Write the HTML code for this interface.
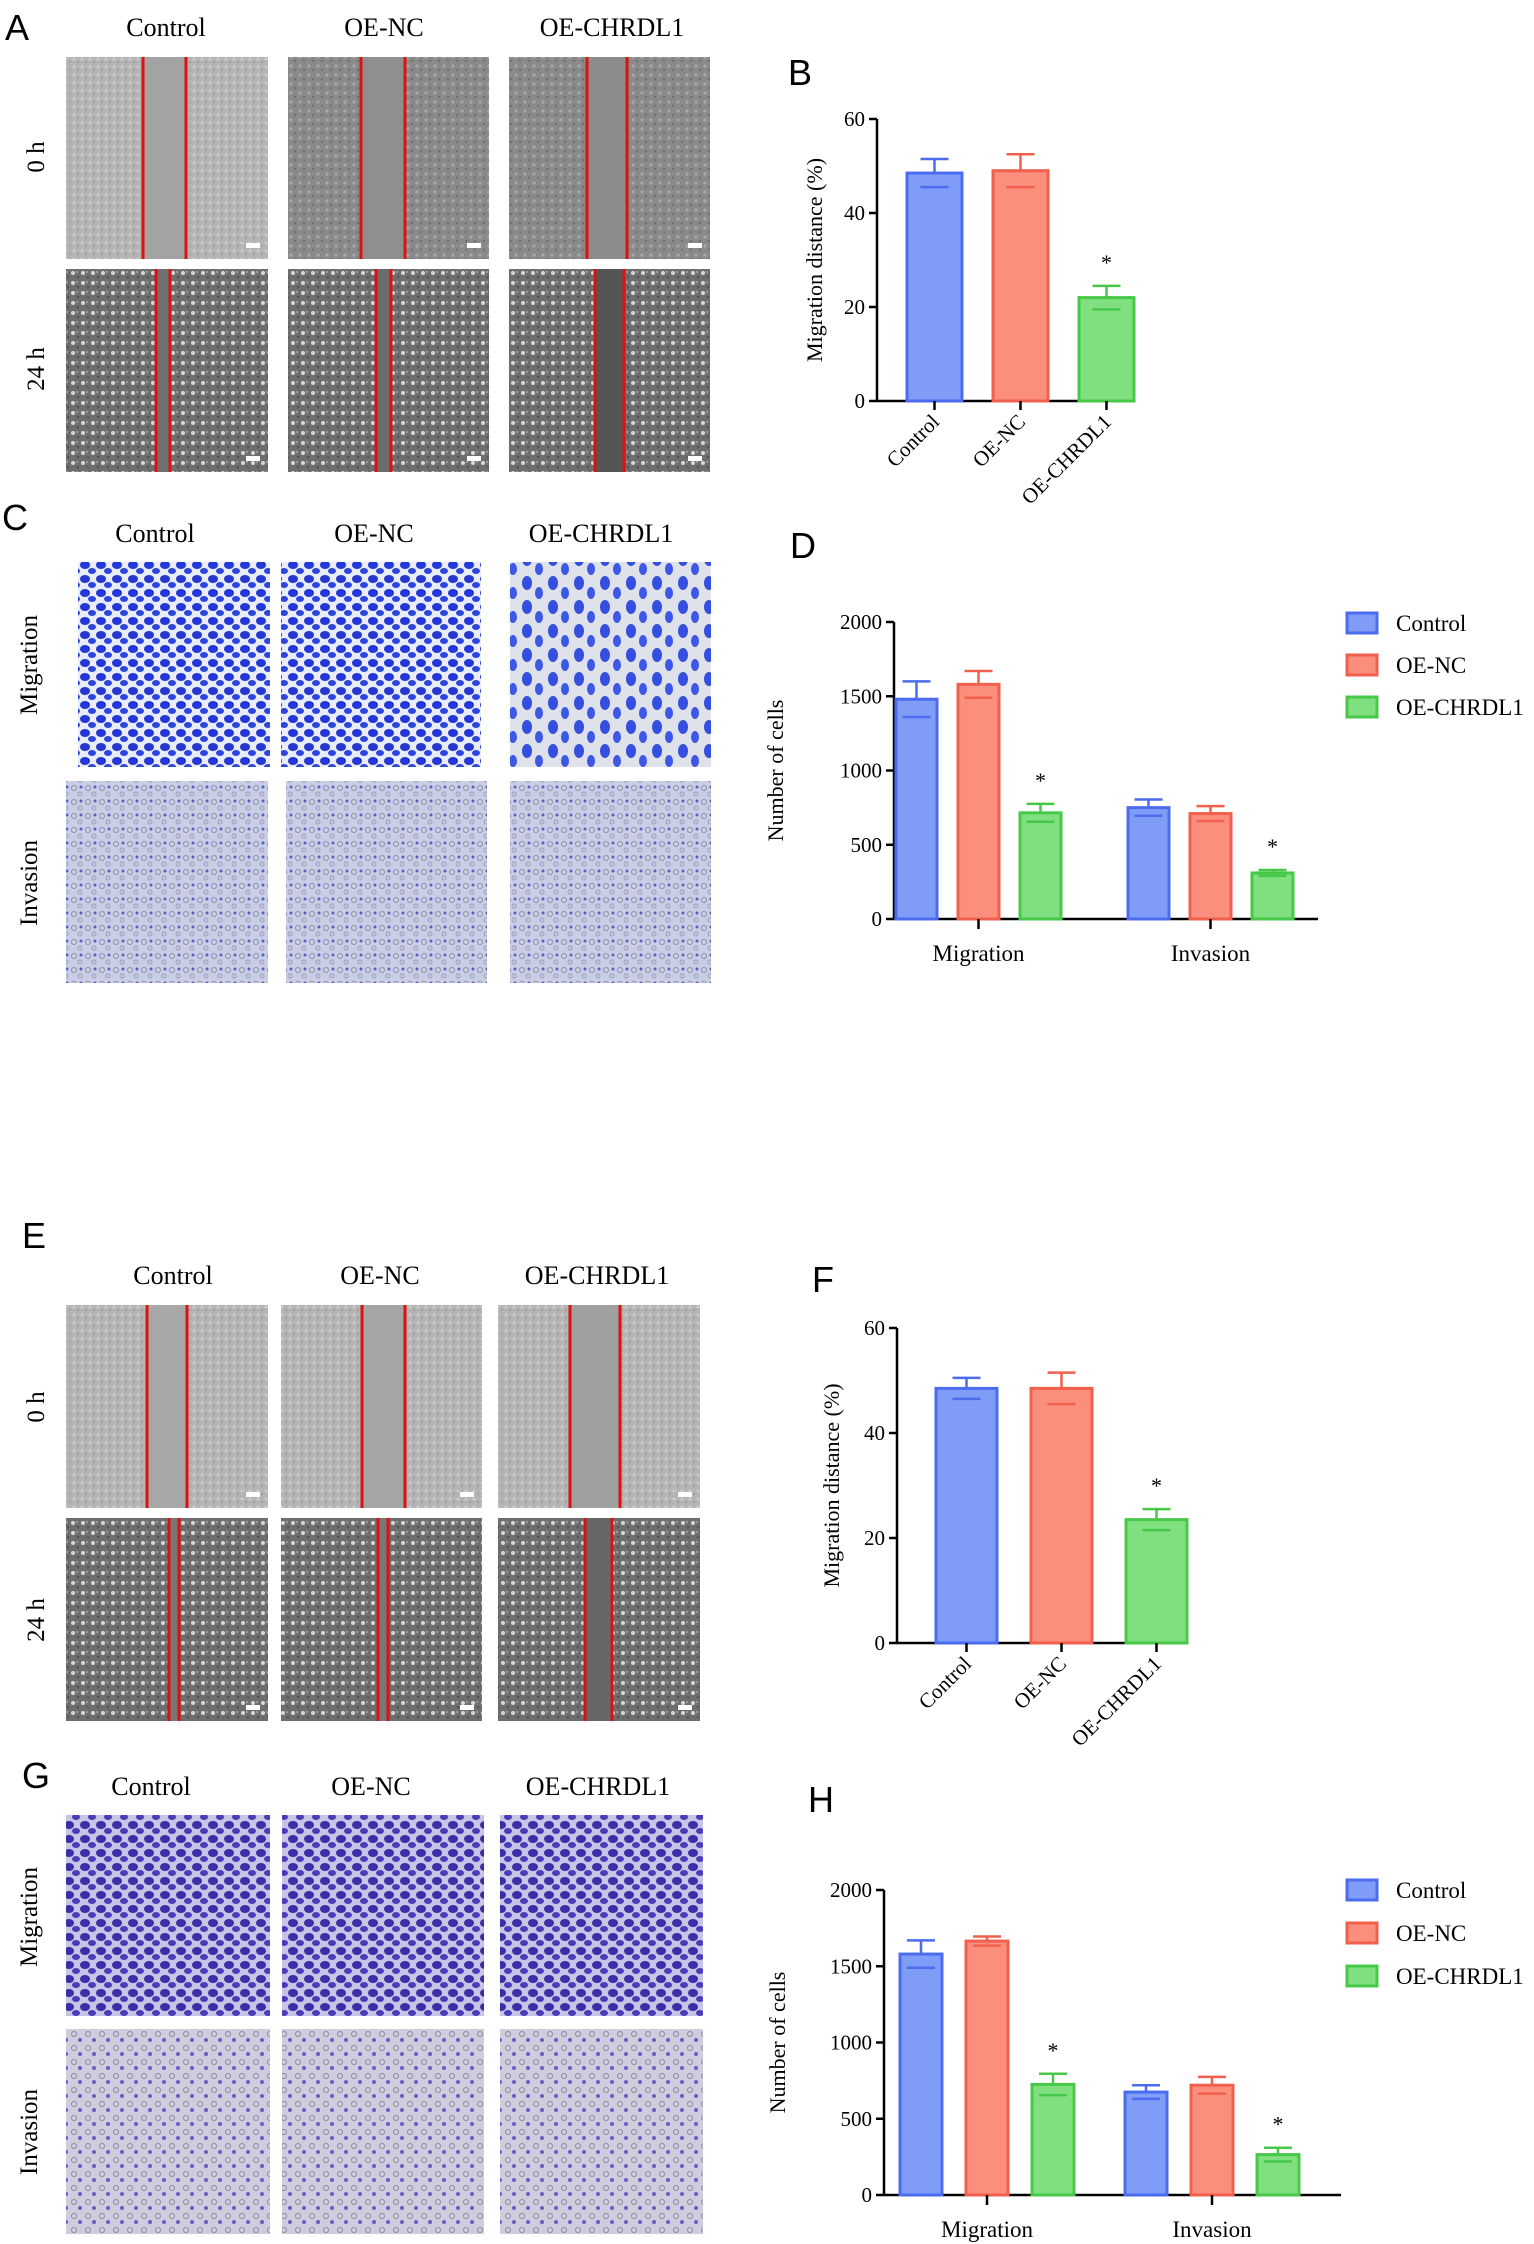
<!DOCTYPE html>
<html><head><meta charset="utf-8">
<style>
html,body{margin:0;padding:0;background:#fff;}
svg{display:block;font-family:"Liberation Serif",serif;}
</style></head>
<body>
<svg id="fig" width="1534" height="2244" viewBox="0 0 1534 2244" xmlns="http://www.w3.org/2000/svg">
<defs>
<pattern id="grayTex" width="9" height="9" patternUnits="userSpaceOnUse">
<rect width="9" height="9" fill="#8a8a8a"/><circle cx="3" cy="3" r="1.6" fill="#a8a8a8"/><circle cx="7" cy="7" r="1.2" fill="#707070"/>
</pattern>
<pattern id="grayTexLight" width="8" height="8" patternUnits="userSpaceOnUse">
<rect width="8" height="8" fill="#b4b4b4"/><circle cx="2" cy="3" r="1.4" fill="#cfcfcf"/><circle cx="6" cy="6" r="1" fill="#999"/>
</pattern>
<pattern id="grayDense" width="10" height="10" patternUnits="userSpaceOnUse">
<rect width="10" height="10" fill="#6e6e6e"/><circle cx="3" cy="3" r="2" fill="#d8d8d8"/><circle cx="8" cy="7" r="1.3" fill="#555"/><circle cx="7" cy="2" r="0.9" fill="#bbb"/>
</pattern>
<pattern id="blueCells" width="16" height="14" patternUnits="userSpaceOnUse">
<rect width="16" height="14" fill="#e8ecfb"/><ellipse cx="5" cy="5" rx="5" ry="4" fill="#2438d8"/><ellipse cx="12" cy="11" rx="4" ry="3" fill="#2d45e0"/>
</pattern>
<pattern id="blueSparse" width="26" height="24" patternUnits="userSpaceOnUse">
<rect width="26" height="24" fill="#dfe2ea"/><ellipse cx="7" cy="7" rx="5" ry="7" fill="#3550e0"/><ellipse cx="19" cy="17" rx="4" ry="6" fill="#3d58e4"/>
</pattern>
<pattern id="invTex" width="14" height="14" patternUnits="userSpaceOnUse">
<rect width="14" height="14" fill="#c9cde6"/><circle cx="4" cy="4" r="2.5" fill="none" stroke="#8b8fa8" stroke-width="1"/><circle cx="10" cy="10" r="2" fill="none" stroke="#9a9db5" stroke-width="1"/><circle cx="11" cy="3" r="1.5" fill="#5860c0"/>
</pattern>
<pattern id="purpleCells" width="16" height="14" patternUnits="userSpaceOnUse">
<rect width="16" height="14" fill="#c8c4e8"/><ellipse cx="5" cy="5" rx="5" ry="4" fill="#3a2fa6"/><ellipse cx="12" cy="11" rx="4" ry="3" fill="#4a3cb8"/>
</pattern>
<pattern id="purpleInv" width="14" height="14" patternUnits="userSpaceOnUse">
<rect width="14" height="14" fill="#cfcddd"/><circle cx="4" cy="4" r="2.5" fill="none" stroke="#8a88a0" stroke-width="1"/><circle cx="10" cy="10" r="2" fill="#6a5cc8"/>
</pattern>
</defs>
<g id="images"></g>
<g id="charts"></g>
</svg>
<script>
// ---------- chart data ----------
const bCategories = ["Control","OE-NC","OE-CHRDL1"];
const bValues = [48.5, 49, 22];
const bErrors = [3, 3.5, 2.5];
const bSig = [false, false, true];

const dGroups = ["Migration","Invasion"];
const dSeries = ["Control","OE-NC","OE-CHRDL1"];
const dControl = [1480, 750];
const dOENC = [1580, 710];
const dCHRDL1 = [715, 310];
const dControlErr = [120, 55];
const dOENCErr = [90, 50];
const dCHRDL1Err = [60, 20];

const fCategories = ["Control","OE-NC","OE-CHRDL1"];
const fValues = [48.5, 48.5, 23.5];
const fErrors = [2, 3, 2];
const fSig = [false, false, true];

const hGroups = ["Migration","Invasion"];
const hControl = [1580, 675];
const hOENC = [1665, 720];
const hCHRDL1 = [725, 265];
const hControlErr = [90, 45];
const hOENCErr = [30, 55];
const hCHRDL1Err = [70, 45];

const pctTicks = [0, 20, 40, 60];
const cellTicks = [0, 500, 1000, 1500, 2000];

const FILLS = ["#7f9cf7","#fb8e7c","#80e080"];
const STROKES = ["#4c6cf0","#f0604c","#48c848"];

const NS = "http://www.w3.org/2000/svg";
function mk(tag, attrs, parent, text){
  const e = document.createElementNS(NS, tag);
  for (const k in attrs) e.setAttribute(k, attrs[k]);
  if (text !== undefined) e.textContent = text;
  parent.appendChild(e);
  return e;
}
const imgG = document.getElementById("images");
const chG = document.getElementById("charts");

// ---------- text labels ----------
function txt(x, y, s, size, name, extra){
  const t = mk("text", Object.assign({x:x, y:y, "font-size":size, "text-anchor":"middle", fill:"#000"}, extra||{}), chG, s);
  
  
  return t;
}
function panelLabel(x, y, s){
  const t = mk("text", {x:x, y:y, "font-size":36, "font-family":"Liberation Sans, sans-serif", fill:"#000"}, chG, s);
  
  
}
function rowLabel(x, y, s){
  const t = mk("text", {x:0, y:0, "font-size":25, "text-anchor":"middle", transform:`translate(${x},${y}) rotate(-90)`}, chG, s);
  
  
}

// ---------- micrograph panels ----------
function scratch(x, y, w, h, l1, l2, tex, gapFill, name){
  const g = mk("g", {}, imgG);
  
  
  mk("rect", {x:x, y:y, width:w, height:h, fill:`url(#${tex})`}, g);
  mk("rect", {x:l1, y:y, width:l2-l1, height:h, fill:gapFill}, g);
  mk("line", {x1:l1, y1:y, x2:l1, y2:y+h, stroke:"#e01010", "stroke-width":3}, g);
  mk("line", {x1:l2, y1:y, x2:l2, y2:y+h, stroke:"#e01010", "stroke-width":3}, g);
  mk("rect", {x:x+w-22, y:y+h-16, width:14, height:5, fill:"#fff"}, g);
}
function micro(x, y, w, h, tex, name){
  const r = mk("rect", {x:x, y:y, width:w, height:h, fill:`url(#${tex})`}, imgG);
  
  
}
const colA = [[66,202],[288,201],[509,201]];
// A
[["Control",166],["OE-NC",384],["OE-CHRDL1",612]].forEach(c=>txt(c[1],36,c[0],26,'column-header'));
scratch(66,57,202,202,143,186,"grayTexLight","#a3a3a3","scratch-control-0h");
scratch(288,57,201,202,361,405,"grayTex","#8f8f8f","scratch-oenc-0h");
scratch(509,57,201,202,587,627,"grayTex","#8c8c8c","scratch-chrdl1-0h");
scratch(66,269,202,203,156,170,"grayDense","#707070","scratch-control-24h");
scratch(288,269,201,203,376,391,"grayDense","#6c6c6c","scratch-oenc-24h");
scratch(509,269,201,203,595,624,"grayDense","#555555","scratch-chrdl1-24h");
rowLabel(44,157,"0 h"); rowLabel(44,369,"24 h");
// C
[["Control",155],["OE-NC",374],["OE-CHRDL1",601]].forEach(c=>txt(c[1],542,c[0],26,'column-header'));
micro(78,562,192,205,"blueCells","transwell-control-migration");
micro(281,562,200,205,"blueCells","transwell-oenc-migration");
micro(510,562,201,205,"blueSparse","transwell-chrdl1-migration");
micro(66,781,202,202,"invTex","transwell-control-invasion");
micro(286,781,201,202,"invTex","transwell-oenc-invasion");
micro(510,781,201,202,"invTex","transwell-chrdl1-invasion");
rowLabel(37,665,"Migration"); rowLabel(37,883,"Invasion");
// E
[["Control",173],["OE-NC",380],["OE-CHRDL1",597]].forEach(c=>txt(c[1],1284,c[0],26,'column-header'));
scratch(66,1305,202,203,147,187,"grayTexLight","#a8a8a8","scratch-control-0h-e");
scratch(281,1305,201,203,362,405,"grayTexLight","#a5a5a5","scratch-oenc-0h-e");
scratch(498,1305,202,203,570,620,"grayTexLight","#a0a0a0","scratch-chrdl1-0h-e");
scratch(66,1518,202,203,169,179,"grayDense","#777","scratch-control-24h-e");
scratch(281,1518,201,203,378,388,"grayDense","#777","scratch-oenc-24h-e");
scratch(498,1518,202,203,585,612,"grayDense","#666","scratch-chrdl1-24h-e");
rowLabel(44,1407,"0 h"); rowLabel(44,1620,"24 h");
// G
[["Control",151],["OE-NC",371],["OE-CHRDL1",598]].forEach(c=>txt(c[1],1795,c[0],26,'column-header'));
micro(66,1815,204,201,"purpleCells","transwell-control-migration-g");
micro(282,1815,202,201,"purpleCells","transwell-oenc-migration-g");
micro(500,1815,203,201,"purpleCells","transwell-chrdl1-migration-g");
micro(66,2029,204,205,"purpleInv","transwell-control-invasion-g");
micro(282,2029,202,205,"purpleInv","transwell-oenc-invasion-g");
micro(500,2029,203,205,"purpleInv","transwell-chrdl1-invasion-g");
rowLabel(37,1917,"Migration"); rowLabel(37,2132,"Invasion");

panelLabel(5,40,"A"); panelLabel(788,85,"B"); panelLabel(2,530,"C"); panelLabel(790,558,"D");
panelLabel(22,1248,"E"); panelLabel(812,1292,"F"); panelLabel(22,1788,"G"); panelLabel(808,1812,"H");

// ---------- chart helpers ----------
function yScale(y0px, y1px, vmax){ return v => y0px - (v/vmax)*(y0px-y1px); }
function axes(g, ax, y0, ytop, xend, ticks, ys, title, titleX, name){
  const a = mk("line",{x1:ax,y1:ytop,x2:ax,y2:y0,stroke:"#000","stroke-width":2.5},g);
  
  
  const b = mk("line",{x1:ax-1,y1:y0,x2:xend,y2:y0,stroke:"#000","stroke-width":2.5},g);
  
  
  ticks.forEach(t=>{
    mk("line",{x1:ax-8,y1:ys(t),x2:ax,y2:ys(t),stroke:"#000","stroke-width":2.5},g);
    const tl = mk("text",{x:ax-12,y:ys(t)+7,"font-size":21,"text-anchor":"end"},g,String(t));
    
    
  });
  const yc = (y0+ytop)/2;
  const tt = mk("text",{x:0,y:0,"font-size":22,"text-anchor":"middle",transform:`translate(${titleX},${yc}) rotate(-90)`},g,title);
  
  
}
function bar(g, x0, x1, v, err, ys, si, name, star){
  const y0 = ys(0), yv = ys(v), ye = ys(v+err), cx=(x0+x1)/2;
  const r = mk("rect",{x:x0,y:yv,width:x1-x0,height:y0-yv,fill:FILLS[si],stroke:STROKES[si],"stroke-width":3},g);
  
  
  mk("line",{x1:cx,y1:yv,x2:cx,y2:ye,stroke:STROKES[si],"stroke-width":2.5},g);
  mk("line",{x1:cx-14,y1:ye,x2:cx+14,y2:ye,stroke:STROKES[si],"stroke-width":2.5},g);
  mk("line",{x1:cx-14,y1:ys(v-err),x2:cx+14,y2:ys(v-err),stroke:STROKES[si],"stroke-width":2.5},g);
  if (star){
    const s = mk("text",{x:cx,y:ye-16,"font-size":22,"text-anchor":"middle"},g,"*");
    
    
  }
}
function simpleChart(cfg){
  const g = mk("g",{},chG);
  
  
  const ys = yScale(cfg.y0, cfg.ytop, 60);
  axes(g, cfg.ax, cfg.y0, cfg.ytop, cfg.xend, pctTicks, ys, "Migration distance (%)", cfg.titleX, cfg.name);
  const n = cfg.cats.length;
  cfg.cats.forEach((c,i)=>{
    const x0 = cfg.first + i*cfg.step;
    bar(g, x0, x0+cfg.bw, cfg.vals[i], cfg.errs[i], ys, i, cfg.name+'-bar-'+c.toLowerCase(), cfg.sig[i]);
    const cx = x0+cfg.bw/2;
    mk("line",{x1:cx,y1:cfg.y0,x2:cx,y2:cfg.y0+9,stroke:"#000","stroke-width":2.5},g);
    const t = mk("text",{x:0,y:0,"font-size":21,"text-anchor":"end",transform:`translate(${cx+6},${cfg.y0+22}) rotate(-45)`},g,c);
    
    
  });
}
function groupedChart(cfg){
  const g = mk("g",{},chG);
  
  
  const ys = yScale(cfg.y0, cfg.ytop, 2000);
  axes(g, cfg.ax, cfg.y0, cfg.ytop, cfg.xend, cellTicks, ys, "Number of cells", cfg.titleX, cfg.name);
  cfg.groups.forEach((gr,gi)=>{
    const gx = cfg.groupStart + gi*cfg.groupStep;
    cfg.series.forEach((s,si)=>{
      const x0 = gx + si*cfg.step;
      bar(g, x0, x0+cfg.bw, s[gi], cfg.errs[si][gi], ys, si, cfg.name+'-bar-'+gr.toLowerCase()+'-'+si, si===2);
    });
    const cx = gx + cfg.step + cfg.bw/2;
    mk("line",{x1:cx,y1:cfg.y0,x2:cx,y2:cfg.y0+10,stroke:"#000","stroke-width":2.5},g);
    const t = mk("text",{x:cx,y:cfg.y0+42,"font-size":23,"text-anchor":"middle"},g,gr);
    
    
  });
  dSeries.forEach((s,si)=>{
    const ly = cfg.legendY + si*cfg.legendStep;
    const r = mk("rect",{x:1347,y:ly-10,width:30,height:20,fill:FILLS[si],stroke:STROKES[si],"stroke-width":3},g);
    
    
    const t = mk("text",{x:1396,y:ly+8,"font-size":23},g,s);
    
    
  });
}

simpleChart({name:"chart-b", cats:bCategories, vals:bValues, errs:bErrors, sig:bSig,
  ax:877, y0:401, ytop:119, xend:1106, first:907, step:86, bw:55, titleX:822});
groupedChart({name:"chart-d", groups:dGroups, series:[dControl,dOENC,dCHRDL1], errs:[dControlErr,dOENCErr,dCHRDL1Err],
  ax:894, y0:919, ytop:622, xend:1318, groupStart:896, groupStep:232, step:62, bw:41, titleX:783, legendY:623, legendStep:42});
simpleChart({name:"chart-f", cats:fCategories, vals:fValues, errs:fErrors, sig:fSig,
  ax:897, y0:1643, ytop:1328, xend:1163, first:936, step:95, bw:61, titleX:839});
groupedChart({name:"chart-h", groups:hGroups, series:[hControl,hOENC,hCHRDL1], errs:[hControlErr,hOENCErr,hCHRDL1Err],
  ax:884, y0:2195, ytop:1890, xend:1341, groupStart:900, groupStep:225, step:66, bw:42, titleX:785, legendY:1890, legendStep:43});
</script>
</body></html>
